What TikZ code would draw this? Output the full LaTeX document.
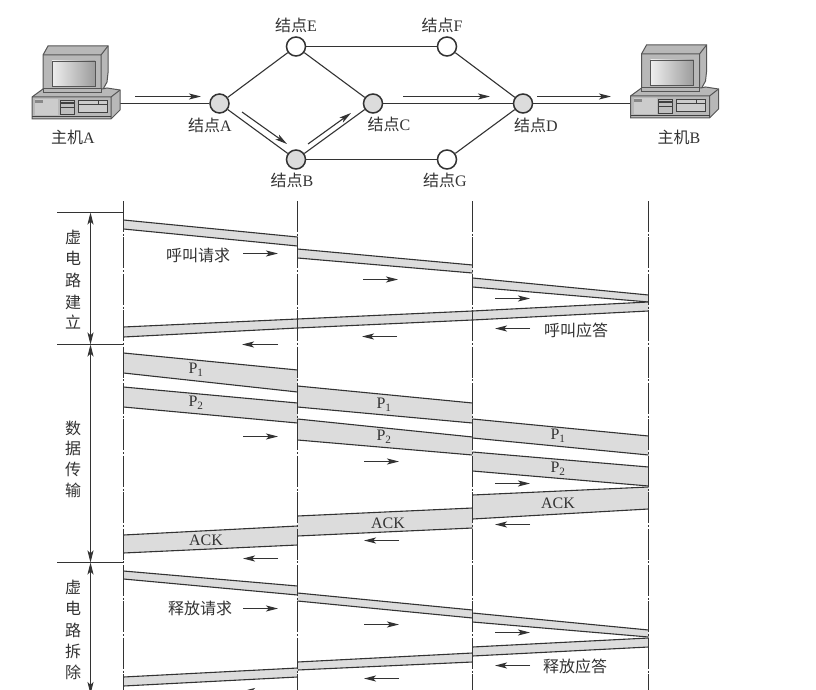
\documentclass[tikz,border=0pt]{standalone}
\usepackage{fontspec}
\setmainfont{Liberation Serif}
\newfontfamily\cjk{Noto Sans CJK SC}
\usepackage{xcolor}
\usetikzlibrary{arrows.meta}
\definecolor{inkgray}{HTML}{333333}
\definecolor{bandgray}{HTML}{DCDCDC}
\definecolor{hostgray}{HTML}{B8B8B8}
\definecolor{hostdark}{HTML}{555555}
\definecolor{screenlight}{HTML}{EEEEEE}
\definecolor{screendark}{HTML}{9C9C9C}

\tikzset{
  relay/.style={circle,draw=inkgray,line width=1.5pt,minimum size=19pt,inner sep=0pt},
  linkline/.style={draw=inkgray,line width=1.1pt},
  flowarrow/.style={draw=inkgray,line width=1.1pt,-{Stealth[length=12pt,width=6pt,inset=3pt]}},
  spanarrow/.style={draw=inkgray,line width=0.9pt,{Stealth[length=12pt,width=6pt,inset=3pt]}-{Stealth[length=12pt,width=6pt,inset=3pt]}},
  bandedge/.style={draw=inkgray,line width=1.1pt},
  hopline/.style={draw=inkgray,line width=1.2pt,dash pattern=on 31pt off 1.7pt on 2pt off 1.7pt},
  lbl/.style={text=inkgray,font=\fontsize{16}{18}\selectfont,inner sep=0pt},
  cjklbl/.style={text=inkgray,font=\cjk\fontsize{16}{18}\selectfont,inner sep=0pt},
  pics/hostpc/.style={code={
    \fill[hostgray,draw=hostdark,line width=1pt] (43,55) -- (48,46) -- (108,46) -- (108,73) -- (107,82) -- (101,93) -- (43,93) -- cycle;
    \draw[hostdark,line width=1pt] (43,55) -- (101,55) -- (108,46) (101,55) -- (101,93);
    \shade[shading angle=120,left color=screenlight,right color=screendark,draw=hostdark,line width=0.7pt] (52,61) rectangle (95,86);
    \fill[hostgray,draw=hostdark,line width=1pt] (32,97) -- (43,89) -- (102,89) -- (107,88) -- (120,90) -- (120,110) -- (111,119) -- (32,119) -- cycle;
    \draw[hostdark,line width=1pt] (32,97) -- (111,97) -- (120,90) (111,97) -- (111,119);
    \fill[hostgray,draw=hostdark,line width=1pt] (43,89) rectangle (101,93);
    \fill[white!80!black] (35,99) rectangle (58,115);
    \fill[hostdark!70] (35,100) rectangle (43,103);
    \fill[white!75!black,draw=black!75,line width=0.7pt] (60,100) rectangle (74,114);
    \fill[black!75] (60,102) rectangle (74,104);
    \draw[black!75,line width=0.7pt] (60,107) -- (74,107);
    \fill[white!80!black,draw=black!75,line width=0.7pt] (78,100) rectangle (107,112);
    \draw[black!75,line width=0.7pt] (78,104) -- (107,104) (98,100) -- (98,104);
    \draw[black!75,line width=0.7pt] (32,116) -- (111,116);
  }}
}

\begin{document}
\begin{tikzpicture}[x=1pt,y=-1pt]
  \useasboundingbox (0,0) rectangle (816,690);
  \clip (0,0) rectangle (816,690);
  \fill[white] (0,0) rectangle (816,690);

  \coordinate (hostA) at (120,103.5);
  \coordinate (hostB) at (632,103.5);
  \node[relay,fill=bandgray] (nodeA) at (219.5,103.5) {};
  \node[relay,fill=white] (nodeE) at (296,46.5) {};
  \node[relay,fill=bandgray] (nodeC) at (373,103.5) {};
  \node[relay,fill=bandgray] (nodeB) at (296,159.5) {};
  \node[relay,fill=white] (nodeF) at (447,46.5) {};
  \node[relay,fill=bandgray] (nodeD) at (523,103.5) {};
  \node[relay,fill=white] (nodeG) at (447,159.5) {};

  \draw[linkline] (hostA) -- (nodeA);
  \draw[linkline] (nodeA) -- (nodeE);
  \draw[linkline] (nodeA) -- (nodeB);
  \draw[linkline] (nodeE) -- (nodeC);
  \draw[linkline] (nodeB) -- (nodeC);
  \draw[linkline] (nodeE) -- (nodeF);
  \draw[linkline] (nodeB) -- (nodeG);
  \draw[linkline] (nodeC) -- (nodeD);
  \draw[linkline] (nodeF) -- (nodeD);
  \draw[linkline] (nodeG) -- (nodeD);
  \draw[linkline] (nodeD) -- (hostB);

  \pic at (0,0) {hostpc};
  \pic at (598.5,-1) {hostpc};

  \node[lbl] (lblHostA) at (73,137) {{\cjk 主机}A};
  \node[lbl] (lblHostB) at (679,137) {{\cjk 主机}B};
  \node[lbl] (lblA) at (210,125) {{\cjk 结点}A};
  \node[lbl] (lblB) at (292,180) {{\cjk 结点}B};
  \node[lbl] (lblC) at (389,124) {{\cjk 结点}C};
  \node[lbl] (lblD) at (536,125) {{\cjk 结点}D};
  \node[lbl] (lblE) at (296,25) {{\cjk 结点}E};
  \node[lbl] (lblF) at (442,25) {{\cjk 结点}F};
  \node[lbl] (lblG) at (445,180) {{\cjk 结点}G};

  % bands: left x, top y, bottom y, right x, top y, bottom y
  \foreach \xa/\ya/\yb/\xb/\yc/\yd in {
    123.5/220/229/297.5/237/246, 297.5/249/258/472.5/265/273, 472.5/278/287/648.5/295/302,
    472.5/311/320/648.5/302/311, 297.5/319/328/472.5/311/320, 123.5/327/337/297.5/319/328,
    123.5/353/373/297.5/370/392, 123.5/387/407/297.5/403/423,
    297.5/386/407/472.5/403/423, 297.5/419/440/472.5/437/455,
    472.5/419/438/648.5/436/455, 472.5/452/471/648.5/467/486,
    472.5/495/519/648.5/487/509, 297.5/516/536/472.5/508/528, 123.5/535/553/297.5/526/545,
    123.5/571/579/297.5/586/595, 297.5/593/601/472.5/610/618, 472.5/613/622/648.5/630/637,
    472.5/647/656/648.5/638/647, 297.5/662/670/472.5/653/662, 123.5/677/686/297.5/668/677} {
    \fill[bandgray] (\xa,\ya) -- (\xb,\yc) -- (\xb,\yd) -- (\xa,\yb) -- cycle;
    \draw[bandedge] (\xa,\ya) -- (\xb,\yc);
    \draw[bandedge] (\xa,\yb) -- (\xb,\yd);
  }

  \foreach \i/\x in {1/123.5,2/297.5,3/472.5,4/648.5} {
    \coordinate (hopTop\i) at (\x,201);
    \coordinate (hopEnd\i) at (\x,692);
    \draw[hopline] (hopTop\i) -- (hopEnd\i);
  }

  \foreach \i/\y in {1/212.5,2/344.5,3/562.5} {
    \coordinate (tickL\i) at (57,\y);
    \coordinate (tickR\i) at (123,\y);
    \draw[linkline] (tickL\i) -- (tickR\i);
  }
  \coordinate (spanEnd) at (90.5,694);
  \coordinate (spanA) at (90.5,212.5);
  \coordinate (spanB) at (90.5,344.5);
  \coordinate (spanC) at (90.5,562.5);
  \draw[spanarrow] (spanA) -- (spanB);
  \draw[spanarrow] (spanB) -- (spanC);
  \draw[spanarrow] (spanC) -- (spanEnd);

  \foreach \i/\xa/\ya/\xb/\yb in {
    1/135/96.5/201/96.5, 2/242/112/287/144, 3/308/144/351/113, 4/403/96.5/490/96.5, 5/537/96.5/611/96.5,
    6/243/253.5/278/253.5, 7/278/344.5/242/344.5, 8/363/279.5/398/279.5, 9/397/336.5/362/336.5,
    10/495/298.5/530/298.5, 11/530/328.5/495/328.5, 12/243/436.5/278/436.5, 13/364/461.5/399/461.5,
    14/495/483.5/530/483.5, 15/530/524.5/495/524.5, 16/399/540.5/364/540.5, 17/278/558.5/243/558.5,
    18/243/608.5/278/608.5, 19/364/624.5/399/624.5, 20/495/632.5/530/632.5, 21/530/665.5/495/665.5,
    22/399/678.5/364/678.5, 23/278/691/243/691} {
    \coordinate (flowS\i) at (\xa,\ya);
    \coordinate (flowE\i) at (\xb,\yb);
    \draw[flowarrow] (flowS\i) -- (flowE\i);
  }

  \foreach \i/\y/\t in {1/237/虚,2/258/电,3/280/路,4/302/建,5/322/立,
    6/428/数,7/448/据,8/469/传,9/490/输,
    10/587/虚,11/608/电,12/630/路,13/651/拆,14/672/除} {
    \node[cjklbl] (phase\i) at (73,\y) {\t};
  }

  \node[cjklbl] (lblCallReq) at (198,255) {呼叫请求};
  \node[cjklbl] (lblCallAck) at (576,330) {呼叫应答};
  \node[cjklbl] (lblRelReq) at (200,608) {释放请求};
  \node[cjklbl] (lblRelAck) at (575,666) {释放应答};
  \node[lbl] (lblP1a) at (196,370) {P\textsubscript{1}};
  \node[lbl] (lblP2a) at (196,403) {P\textsubscript{2}};
  \node[lbl] (lblP1b) at (384,405) {P\textsubscript{1}};
  \node[lbl] (lblP2b) at (384,437) {P\textsubscript{2}};
  \node[lbl] (lblP1c) at (558,436) {P\textsubscript{1}};
  \node[lbl] (lblP2c) at (558,469) {P\textsubscript{2}};
  \node[lbl] (lblAckC) at (558,503) {ACK};
  \node[lbl] (lblAckB) at (388,523) {ACK};
  \node[lbl] (lblAckA) at (206,540) {ACK};
\end{tikzpicture}
\end{document}
